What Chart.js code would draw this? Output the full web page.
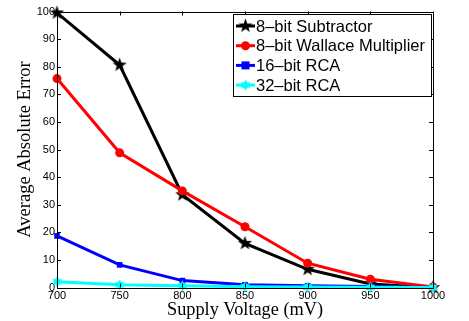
<!DOCTYPE html>
<html><head><meta charset="utf-8">
<script src="https://cdn.jsdelivr.net/npm/chart.js@4/dist/chart.umd.min.js"></script>
<style>html,body{margin:0;padding:0;background:#fff}#wrap{width:469px;height:321px;position:relative}</style>
</head><body><div id="wrap"><canvas id="c" width="469" height="321"></canvas></div>
<script>
const voltages = [700, 750, 800, 850, 900, 950, 1000];
const subtractor = [99.5, 80.6, 33.6, 16, 6.6, 1.3, 0];
const wallace = [75.7, 48.8, 35, 22, 8.8, 3, 0.2];
const rca16 = [18.7, 8.2, 2.5, 1.0, 0.6, 0.4, 0];
const rca32 = [2.1, 1.0, 0.6, 0.3, 0.2, 0.1, 0];
const seriesNames = ['8–bit Subtractor', '8–bit Wallace Multiplier', '16–bit RCA', '32–bit RCA'];
const xTicks = [700, 750, 800, 850, 900, 950, 1000];
const yTicks = [0, 10, 20, 30, 40, 50, 60, 70, 80, 90, 100];

function starCanvas(points, outer, inner, color) {
  const s = Math.ceil(outer * 2) + 2;
  const cv = document.createElement('canvas');
  cv.width = s; cv.height = s;
  const g = cv.getContext('2d');
  g.fillStyle = color;
  g.beginPath();
  for (let i = 0; i < points * 2; i++) {
    const r = i % 2 === 0 ? outer : inner;
    const a = -Math.PI / 2 + i * Math.PI / points;
    const x = s / 2 + r * Math.cos(a), y = s / 2 + r * Math.sin(a);
    if (i === 0) g.moveTo(x, y); else g.lineTo(x, y);
  }
  g.closePath(); g.fill();
  return cv;
}
const pent = starCanvas(5, 7.5, 3.0, '#000');
const hexa = starCanvas(6, 5.5, 3.2, '#00ffff');

const mk = (label, data, color, style, radius, order) => ({
  label, data: voltages.map((v, i) => ({x: v, y: data[i]})),
  borderColor: color, backgroundColor: color, borderWidth: 3,
  pointStyle: style, pointRadius: radius, pointBorderWidth: 0,
  pointBackgroundColor: color, tension: 0, clip: false, order
});

const boxPlugin = {
  id: 'boxPlugin',
  afterDatasetsDraw(chart) {
    const {ctx, scales: {x, y}} = chart;
    const L = x.left, R = x.right, T = y.top, B = y.bottom;
    ctx.save();
    ctx.strokeStyle = '#000'; ctx.lineWidth = 1;
    ctx.strokeRect(Math.round(L) + 0.5, Math.round(T) + 0.5, Math.round(R - L), Math.round(B - T));
    ctx.beginPath();
    xTicks.forEach(v => {
      const px = Math.round(x.getPixelForValue(v)) + 0.5;
      ctx.moveTo(px, B); ctx.lineTo(px, B - 4);
      ctx.moveTo(px, T); ctx.lineTo(px, T + 4);
    });
    yTicks.forEach(v => {
      const py = Math.round(y.getPixelForValue(v)) + 0.5;
      ctx.moveTo(L, py); ctx.lineTo(L + 4, py);
      ctx.moveTo(R, py); ctx.lineTo(R - 4, py);
    });
    ctx.stroke();
    // legend
    const bx = 233, by = 14, bw = 198, bh = 82;
    ctx.fillStyle = '#fff';
    ctx.fillRect(bx, by, bw, bh);
    ctx.strokeRect(bx + 0.5, by + 0.5, bw, bh);
    ctx.save();
    ctx.beginPath(); ctx.rect(bx, by, bw, bh); ctx.clip();
    const ds = chart.data.datasets;
    ds.forEach((d, i) => {
      const ry = 26 + i * 19.7;
      ctx.strokeStyle = d.borderColor; ctx.lineWidth = 3;
      ctx.beginPath(); ctx.moveTo(236, ry); ctx.lineTo(255, ry); ctx.stroke();
      const cx = 245.5;
      if (d.pointStyle instanceof HTMLCanvasElement) {
        ctx.drawImage(d.pointStyle, cx - d.pointStyle.width / 2, ry - d.pointStyle.height / 2);
      } else if (d.pointStyle === 'circle') {
        ctx.fillStyle = d.borderColor; ctx.beginPath(); ctx.arc(cx, ry, d.pointRadius, 0, Math.PI * 2); ctx.fill();
      } else {
        ctx.fillStyle = d.borderColor; ctx.fillRect(cx - d.pointRadius, ry - d.pointRadius, d.pointRadius * 2, d.pointRadius * 2);
      }
      ctx.fillStyle = '#000';
      ctx.font = '16.5px "Liberation Sans", Arial, sans-serif';
      ctx.textBaseline = 'middle'; ctx.textAlign = 'left';
      ctx.fillText(d.label, 256, ry + 1);
    });
    ctx.restore();
    ctx.restore();
  }
};

new Chart(document.getElementById('c'), {
  type: 'line',
  data: {
    datasets: [
      mk(seriesNames[0], subtractor, '#000000', pent, 7.5, 4),
      mk(seriesNames[1], wallace, '#ff0000', 'circle', 4.5, 3),
      mk(seriesNames[2], rca16, '#0000ff', 'rect', 4, 2),
      mk(seriesNames[3], rca32, '#00ffff', hexa, 5.5, 1)
    ]
  },
  options: {
    responsive: false, animation: false, devicePixelRatio: 1,
    layout: {padding: {left: 0, right: 36, top: 11.5, bottom: 0}},
    plugins: {legend: {display: false}, tooltip: {enabled: false}},
    scales: {
      x: {
        type: 'linear', min: 700, max: 1000,
        afterBuildTicks: s => { s.ticks = xTicks.map(v => ({value: v})); },
        afterFit: s => { s.height = 33.5; },
        grid: {display: false, drawTicks: false}, border: {display: false},
        ticks: {padding: 2, color: '#000', font: {family: '"Liberation Sans", Arial, sans-serif', size: 11}, maxRotation: 0,
          callback: v => String(v)},
        title: {display: true, text: 'Supply Voltage (mV)', color: '#000',
          font: {family: '"Liberation Serif", "Times New Roman", serif', size: 18.3}, padding: {top: 2, bottom: 0}}
      },
      y: {
        type: 'linear', min: 0, max: 100,
        afterBuildTicks: s => { s.ticks = yTicks.map(v => ({value: v})); },
        afterFit: s => { s.width = 57; },
        grid: {display: false, drawTicks: false}, border: {display: false},
        ticks: {padding: 2, color: '#000', font: {family: '"Liberation Sans", Arial, sans-serif', size: 11},
          callback: v => String(v)},
        title: {display: true, text: 'Average Absolute Error', color: '#000',
          font: {family: '"Liberation Serif", "Times New Roman", serif', size: 18.5}, padding: {top: 14, bottom: 0}}
      }
    }
  },
  plugins: [boxPlugin]
});
</script></body></html>
